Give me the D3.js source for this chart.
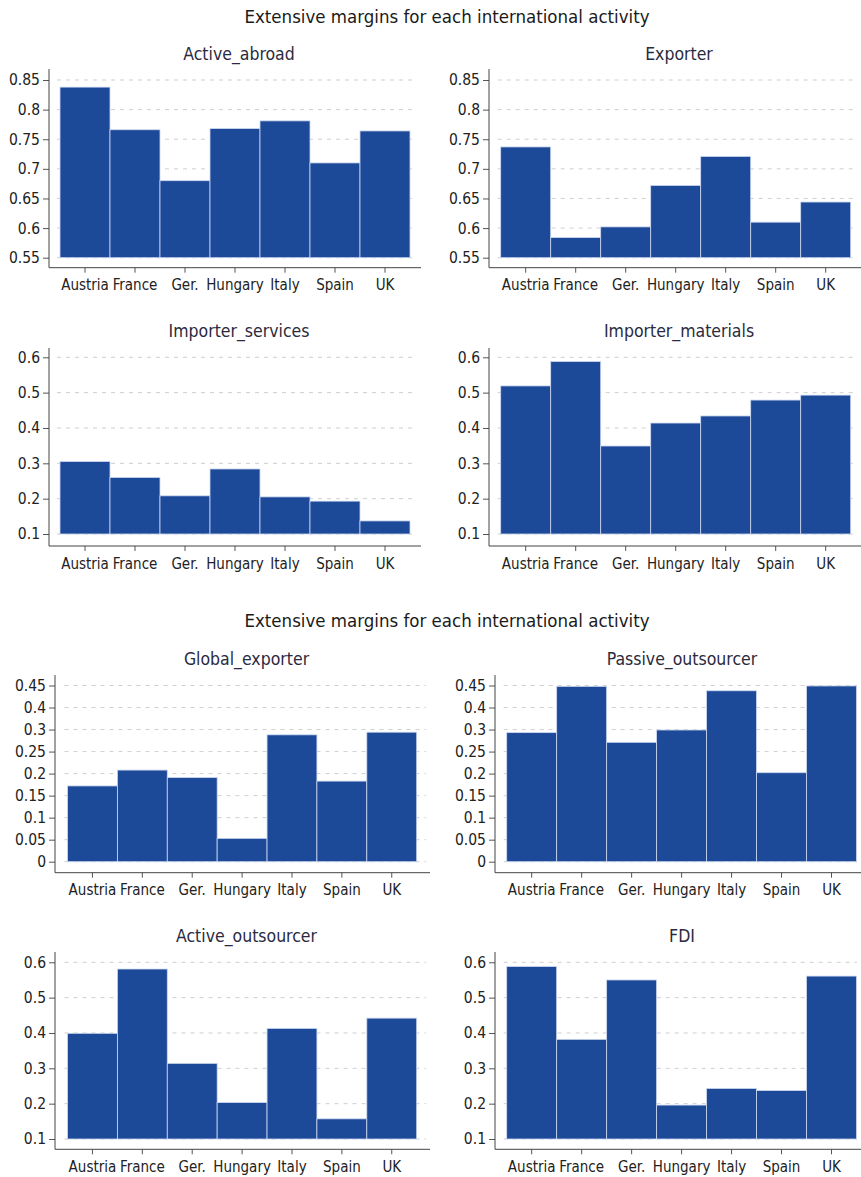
<!DOCTYPE html>
<html>
<head>
<meta charset="utf-8">
<script src="https://cdn.jsdelivr.net/npm/d3@7"></script>
<style>
  body { margin: 0; background: #fff; }
  text { font-family: "DejaVu Sans Condensed", "DejaVu Sans", sans-serif; }
</style>
</head>
<body>
<div class="container"></div>
<script>
const w = 861;
const h = 1177;

const countries = ["Austria", "France", "Ger.", "Hungary", "Italy", "Spain", "UK"];

const activeAbroad = [0.838, 0.766, 0.680, 0.768, 0.781, 0.710, 0.764];
const exporter = [0.737, 0.584, 0.602, 0.672, 0.721, 0.610, 0.644];
const importerServices = [0.305, 0.260, 0.208, 0.284, 0.205, 0.193, 0.137];
const importerMaterials = [0.519, 0.588, 0.349, 0.414, 0.434, 0.479, 0.493];
const globalExporter = [0.172, 0.208, 0.191, 0.053, 0.288, 0.183, 0.294];
const passiveOutsourcer = [0.293, 0.398, 0.271, 0.299, 0.388, 0.202, 0.399];
const activeOutsourcer = [0.399, 0.581, 0.314, 0.203, 0.413, 0.157, 0.442];
const fdi = [0.588, 0.382, 0.550, 0.196, 0.243, 0.237, 0.561];

const ticksHigh = [0.55, 0.6, 0.65, 0.7, 0.75, 0.8, 0.85];
const ticksHighLabels = ["0.55", "0.6", "0.65", "0.7", "0.75", "0.8", "0.85"];
const ticksMid = [0.1, 0.2, 0.3, 0.4, 0.5, 0.6];
const ticksMidLabels = ["0.1", "0.2", "0.3", "0.4", "0.5", "0.6"];
const ticksLow = [0, 0.05, 0.1, 0.15, 0.2, 0.25, 0.3, 0.35, 0.4];
const ticksLowLabels = ["0", "0.05", "0.1", "0.15", "0.2", "0.25", "0.3", "0.4", "0.45"];

const mainTitle = "Extensive margins for each international activity";

const barColor = "#1d4999";

// layout of the panels (pixels)
const topLeft = { ax: 49, bx0: 60, bx1: 410, end: 421 };
const topRight = { ax: 489, bx0: 500.7, bx1: 850.7, end: 861 };
const botLeft = { ax: 55, bx0: 67.5, bx1: 416.7, end: 430 };
const botRight = { ax: 495, bx0: 506.7, bx1: 856.5, end: 861 };

const panels = [
  { title: "Active_abroad", values: activeAbroad, ticks: ticksHigh, labels: ticksHighLabels, col: topLeft, yTop: 80, yBot: 257.7, xAxisY: 267.7, axisTop: 69, titleY: 60 },
  { title: "Exporter", values: exporter, ticks: ticksHigh, labels: ticksHighLabels, col: topRight, yTop: 80, yBot: 257.7, xAxisY: 267.7, axisTop: 69, titleY: 60 },
  { title: "Importer_services", values: importerServices, ticks: ticksMid, labels: ticksMidLabels, col: topLeft, yTop: 357.3, yBot: 534, xAxisY: 546, axisTop: 348, titleY: 337 },
  { title: "Importer_materials", values: importerMaterials, ticks: ticksMid, labels: ticksMidLabels, col: topRight, yTop: 357.3, yBot: 534, xAxisY: 546, axisTop: 348, titleY: 337 },
  { title: "Global_exporter", values: globalExporter, ticks: ticksLow, labels: ticksLowLabels, col: botLeft, yTop: 685.5, yBot: 861.7, xAxisY: 872.7, axisTop: 675, titleY: 665 },
  { title: "Passive_outsourcer", values: passiveOutsourcer, ticks: ticksLow, labels: ticksLowLabels, col: botRight, yTop: 685.5, yBot: 861.7, xAxisY: 872.7, axisTop: 675, titleY: 665 },
  { title: "Active_outsourcer", values: activeOutsourcer, ticks: ticksMid, labels: ticksMidLabels, col: botLeft, yTop: 962.3, yBot: 1139, xAxisY: 1149.3, axisTop: 952, titleY: 942 },
  { title: "FDI", values: fdi, ticks: ticksMid, labels: ticksMidLabels, col: botRight, yTop: 962.3, yBot: 1139, xAxisY: 1149.3, axisTop: 952, titleY: 942 }
];

const svg = d3.select(".container")
  .append("svg")
  .attr("width", w)
  .attr("height", h);

svg.append("rect").attr("width", w).attr("height", h).attr("fill", "#fff");

// the two block titles
[23, 627].forEach(y => {
  svg.append("text")
    .attr("x", 447)
    .attr("y", y)
    .attr("text-anchor", "middle")
    .attr("font-size", "18.5px")
    .attr("fill", "#1a1a1a")
    .text(mainTitle);
});

function drawPanel(p) {
  const c = p.col;
  const g = svg.append("g");

  const x = d3.scaleBand()
    .domain(countries)
    .range([c.bx0, c.bx1])
    .paddingInner(0)
    .paddingOuter(0);

  const y = d3.scaleLinear()
    .domain([p.ticks[0], p.ticks[p.ticks.length - 1]])
    .range([p.yBot, p.yTop]);

  // dashed grid
  g.selectAll(".grid")
    .data(p.ticks)
    .enter()
    .append("line")
    .attr("x1", c.bx0 - 3)
    .attr("x2", c.end - 4)
    .attr("y1", d => y(d))
    .attr("y2", d => y(d))
    .attr("stroke", "#cfcfcf")
    .attr("stroke-width", 1)
    .attr("stroke-dasharray", "4,5");

  // bars
  g.selectAll(".bar")
    .data(p.values)
    .enter()
    .append("rect")
    .attr("class", "bar")
    .attr("x", (d, i) => x(countries[i]))
    .attr("y", d => y(d))
    .attr("width", x.bandwidth())
    .attr("height", d => y(p.ticks[0]) - y(d))
    .attr("fill", barColor)
    .attr("stroke", "#cdd8f0")
    .attr("stroke-width", 0.8);

  // y axis
  const yAxis = d3.axisLeft(y)
    .tickValues(p.ticks)
    .tickFormat((d, i) => p.labels[i])
    .tickSize(6)
    .tickPadding(3);

  const ya = g.append("g")
    .attr("transform", `translate(${c.ax},0)`)
    .call(yAxis);
  ya.select(".domain").remove();
  ya.selectAll(".tick line").attr("stroke", "#555");
  ya.selectAll(".tick text")
    .attr("font-family", "DejaVu Sans Condensed")
    .attr("font-size", "15.5px")
    .attr("fill", "#222");

  g.append("line")
    .attr("x1", c.ax).attr("x2", c.ax)
    .attr("y1", p.axisTop).attr("y2", p.xAxisY)
    .attr("stroke", "#444");

  // x axis
  const xAxis = d3.axisBottom(x)
    .tickSize(5)
    .tickPadding(7);

  const xa = g.append("g")
    .attr("transform", `translate(0,${p.xAxisY})`)
    .call(xAxis);
  xa.select(".domain").remove();
  xa.selectAll(".tick line").attr("stroke", "#555");
  xa.selectAll(".tick text")
    .attr("font-family", "DejaVu Sans Condensed")
    .attr("font-size", "15px")
    .attr("fill", "#222");

  g.append("line")
    .attr("x1", c.ax).attr("x2", c.end)
    .attr("y1", p.xAxisY).attr("y2", p.xAxisY)
    .attr("stroke", "#444");

  // panel title
  g.append("text")
    .attr("x", (c.ax + c.end) / 2 + 4)
    .attr("y", p.titleY)
    .attr("text-anchor", "middle")
    .attr("font-size", "17.5px")
    .attr("fill", "#2a2a40")
    .text(p.title);
}

panels.forEach(drawPanel);
</script>
</body>
</html>
